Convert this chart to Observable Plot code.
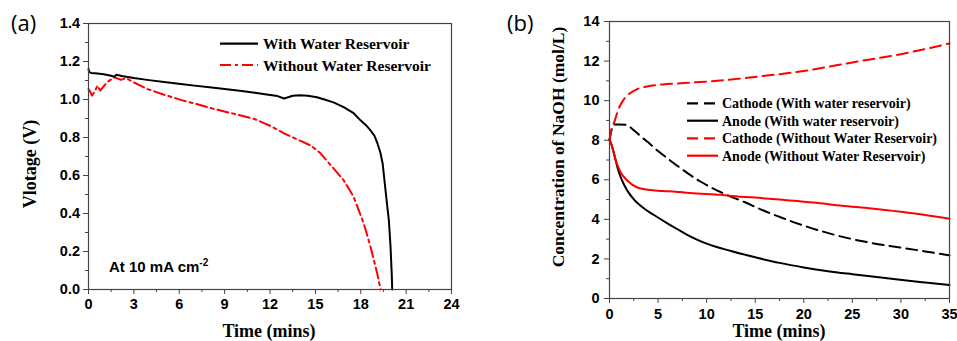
<!DOCTYPE html>
<html><head><meta charset="utf-8">
<script src="https://cdn.jsdelivr.net/npm/d3@7"></script>
<script src="https://cdn.jsdelivr.net/npm/@observablehq/plot@0.6"></script>
<style>
body{margin:0;background:#fff;}
#wrap{position:relative;width:957px;height:341px;overflow:hidden;background:#fff;}
#wrap > svg{position:absolute;top:0;}
</style></head><body><div id="wrap"></div>
<script>
// ---------- Panel (a) data ----------
const aWithT = [0, 0.05, 0.2, 0.6, 1.0, 1.5, 1.7, 1.85, 2.2, 3, 4, 5, 6.1, 7, 8, 9, 10, 11, 11.9, 12.5, 12.93, 13.2, 13.5, 14, 14.5, 15.1, 15.6, 16.2, 16.9, 17.5, 18.0, 18.4, 18.65, 18.9, 19.1, 19.3, 19.45, 19.6, 19.75, 19.86, 19.97, 20.05, 20.08];
const aWithV = [1.16, 1.143, 1.14, 1.137, 1.133, 1.125, 1.12, 1.13, 1.124, 1.113, 1.102, 1.092, 1.082, 1.073, 1.064, 1.055, 1.046, 1.035, 1.025, 1.018, 1.005, 1.012, 1.02, 1.022, 1.02, 1.012, 1.0, 0.985, 0.959, 0.93, 0.889, 0.86, 0.837, 0.81, 0.77, 0.72, 0.662, 0.55, 0.44, 0.364, 0.224, 0.08, 0];
const aWithoutT = [0, 0.12, 0.23, 0.38, 0.6, 0.78, 1.04, 1.3, 1.7, 2.15, 2.48, 3, 3.9, 5, 6.1, 7.2, 8.3, 9.6, 10.95, 12, 12.93, 13.8, 14.69, 15.3, 15.79, 16.3, 16.88, 17.54, 18.2, 18.65, 19.09, 19.31];
const aWithoutV = [1.055, 1.04, 1.02, 1.038, 1.073, 1.047, 1.073, 1.095, 1.117, 1.103, 1.113, 1.09, 1.055, 1.025, 0.998, 0.975, 0.95, 0.925, 0.898, 0.862, 0.822, 0.79, 0.758, 0.72, 0.675, 0.628, 0.574, 0.486, 0.347, 0.224, 0.084, 0];
const aXTicks = [0, 3, 6, 9, 12, 15, 18, 21, 24];
const aXMinor = [1.5, 4.5, 7.5, 10.5, 13.5, 16.5, 19.5, 22.5];
const aYTicks = [0, 0.2, 0.4, 0.6, 0.8, 1.0, 1.2, 1.4];
const aYMinor = [0.1, 0.3, 0.5, 0.7, 0.9, 1.1, 1.3];
const aLegend = ["With Water Reservoir", "Without Water Reservoir"];

// ---------- Panel (b) data ----------
const bCathWithT = [0, 0.2, 0.5, 1, 1.7, 2.5, 3.5, 4.2, 5, 6, 7.7, 9.4, 11.1, 12.3, 14, 15.5, 17.1, 19, 21.7, 23.3, 25, 27.5, 29.9, 32.5, 35];
const bCathWithV = [8.0, 8.5, 8.8, 8.8, 8.78, 8.5, 8.08, 7.8, 7.45, 7.07, 6.45, 5.9, 5.45, 5.19, 4.85, 4.52, 4.2, 3.85, 3.42, 3.2, 3.0, 2.76, 2.58, 2.38, 2.18];
const bAnodeWithT = [0, 0.13, 0.48, 0.82, 1.16, 1.5, 1.85, 2.53, 3.56, 4.58, 5.96, 7, 8, 9, 10.07, 12.5, 15.2, 17.5, 20, 22.5, 25, 27.5, 29.9, 32.5, 35];
const bAnodeWithV = [8.0, 7.88, 7.3, 6.62, 6.12, 5.75, 5.44, 5.0, 4.55, 4.22, 3.8, 3.5, 3.22, 2.98, 2.76, 2.4, 2.06, 1.8, 1.57, 1.38, 1.23, 1.09, 0.95, 0.81, 0.68];
const bCathWithoutT = [0, 0.13, 0.48, 0.99, 1.5, 2.53, 4.24, 5.5, 7.67, 11.1, 15, 20, 25, 30, 35];
const bCathWithoutV = [8.0, 8.39, 8.9, 9.65, 10.08, 10.5, 10.75, 10.82, 10.89, 11.0, 11.2, 11.5, 11.93, 12.35, 12.89];
const bAnodeWithoutT = [0, 0.13, 0.65, 1.16, 1.85, 2.88, 4.24, 5.5, 6.81, 7.67, 9, 11.44, 12.29, 15, 18, 21, 23.94, 27, 30, 32.5, 35];
const bAnodeWithoutV = [8.0, 7.88, 6.96, 6.37, 5.95, 5.61, 5.48, 5.43, 5.4, 5.36, 5.31, 5.24, 5.19, 5.1, 4.98, 4.85, 4.69, 4.55, 4.38, 4.22, 4.03];
const bXTicks = [0, 5, 10, 15, 20, 25, 30, 35];
const bXMinor = [2.5, 7.5, 12.5, 17.5, 22.5, 27.5, 32.5];
const bYTicks = [0, 2, 4, 6, 8, 10, 12, 14];
const bYMinor = [1, 3, 5, 7, 9, 11, 13];
const bLegend = ["Cathode (With water reservoir)", "Anode (With water reservoir)", "Cathode (Without Water Reservoir)", "Anode (Without Water Reservoir)"];

const zip = (t, v) => t.map((x, i) => ({t: x, v: v[i]}));
const RED = "#ff0000";
const AX = "#444";
const tickStyle = {fontFamily: "'Liberation Sans', Arial, sans-serif", fontSize: "14.5px", fontWeight: "bold", background: "transparent", overflow: "visible", color: "#000"};

const wrap = document.getElementById("wrap");

const pa = Plot.plot({
  width: 480, height: 341, marginLeft: 88, marginRight: 29, marginTop: 23, marginBottom: 52,
  style: tickStyle,
  x: {domain: [0, 24]}, y: {domain: [0, 1.4]},
  marks: [
    Plot.axisX(aXTicks, {tickSize: 5, tickPadding: 4, stroke: AX, fill: "#000", label: null}),
    Plot.axisX(aXMinor, {tickSize: 3, tickFormat: () => "", stroke: AX, label: null}),
    Plot.axisY(aYTicks, {tickSize: 5, tickPadding: 3.5, stroke: AX, fill: "#000", tickFormat: d3.format(".1f"), label: null}),
    Plot.axisY(aYMinor, {tickSize: 3, tickFormat: () => "", stroke: AX, label: null}),
    Plot.line(zip(aWithoutT, aWithoutV), {x: "t", y: "v", stroke: RED, strokeWidth: 2, strokeDasharray: "11,4,3,4"}),
    Plot.line(zip(aWithT, aWithV), {x: "t", y: "v", stroke: "#000", strokeWidth: 2}),
    Plot.frame({stroke: AX, strokeWidth: 1.2})
  ]
});
pa.style.left = "0px";
wrap.appendChild(pa);

const pb = Plot.plot({
  width: 477, height: 341, marginLeft: 129, marginRight: 8, marginTop: 21, marginBottom: 43,
  style: tickStyle,
  x: {domain: [0, 35]}, y: {domain: [0, 14]},
  marks: [
    Plot.axisX(bXTicks, {tickSize: 5, tickPadding: 5, stroke: AX, fill: "#000", label: null}),
    Plot.axisX(bXMinor, {tickSize: 3, tickFormat: () => "", stroke: AX, label: null}),
    Plot.axisY(bYTicks, {tickSize: 5, tickPadding: 5, stroke: AX, fill: "#000", label: null}),
    Plot.axisY(bYMinor, {tickSize: 3, tickFormat: () => "", stroke: AX, label: null}),
    Plot.line(zip(bCathWithT, bCathWithV), {x: "t", y: "v", stroke: "#000", strokeWidth: 2, strokeDasharray: "11,6", curve: "monotone-x"}),
    Plot.line(zip(bAnodeWithT, bAnodeWithV), {x: "t", y: "v", stroke: "#000", strokeWidth: 2, curve: "monotone-x"}),
    Plot.line(zip(bCathWithoutT, bCathWithoutV), {x: "t", y: "v", stroke: RED, strokeWidth: 2, strokeDasharray: "11,6", curve: "monotone-x"}),
    Plot.line(zip(bAnodeWithoutT, bAnodeWithoutV), {x: "t", y: "v", stroke: RED, strokeWidth: 2, curve: "monotone-x"}),
    Plot.frame({stroke: AX, strokeWidth: 1.2})
  ]
});
pb.style.left = "480px";
wrap.appendChild(pb);

// ---------- overlay: panel letters, axis titles, legends, annotation ----------
const ov = d3.select(wrap).append("svg")
  .attr("width", 957).attr("height", 341)
  .style("left", "0px").style("pointer-events", "none");
const serif = "'Liberation Serif', 'Times New Roman', serif";
const sans = "'Liberation Sans', Arial, sans-serif";

ov.append("text").attr("x", 11).attr("y", 31).attr("font-family", "'Open Sans', sans-serif").attr("font-size", 22).text("(a)");
ov.append("text").attr("x", 507).attr("y", 31).attr("font-family", "'Open Sans', sans-serif").attr("font-size", 22).text("(b)");

// axis titles
ov.append("text").attr("x", 269).attr("y", 336.5).attr("text-anchor", "middle")
  .attr("font-family", serif).attr("font-weight", "bold").attr("font-size", 18).text("Time (mins)");
ov.append("text").attr("x", 779).attr("y", 336.5).attr("text-anchor", "middle")
  .attr("font-family", serif).attr("font-weight", "bold").attr("font-size", 18).text("Time (mins)");
ov.append("text").attr("transform", "translate(36,164) rotate(-90)").attr("text-anchor", "middle")
  .attr("font-family", serif).attr("font-weight", "bold").attr("font-size", 18).text("Vlotage (V)");
ov.append("text").attr("transform", "translate(564,147) rotate(-90)").attr("text-anchor", "middle")
  .attr("font-family", serif).attr("font-weight", "bold").attr("font-size", 17.5).text("Concentration of NaOH (mol/L)");

// annotation
const ann = ov.append("text").attr("x", 109).attr("y", 272).attr("font-family", sans).attr("font-weight", "bold").attr("font-size", 15);
ann.append("tspan").text("At 10 mA cm");
ann.append("tspan").attr("font-size", 10).attr("dy", -6).text("-2");

// legend (a)
const legA = [{c: "#000", d: null, y: 43.7}, {c: RED, d: "11,4,3,4", y: 65}];
legA.forEach((s, i) => {
  ov.append("line").attr("x1", 220).attr("x2", 258).attr("y1", s.y).attr("y2", s.y)
    .attr("stroke", s.c).attr("stroke-width", 2.2).attr("stroke-dasharray", s.d);
  ov.append("text").attr("x", 263).attr("y", s.y + 5.5).attr("font-family", serif).attr("font-weight", "bold")
    .attr("font-size", 15.5).text(aLegend[i]);
});

// legend (b)
const legB = [{c: "#000", d: "11,6", y: 103.3}, {c: "#000", d: null, y: 120.7}, {c: RED, d: "11,6", y: 138.3}, {c: RED, d: null, y: 155.7}];
legB.forEach((s, i) => {
  ov.append("line").attr("x1", 687).attr("x2", 718).attr("y1", s.y).attr("y2", s.y)
    .attr("stroke", s.c).attr("stroke-width", 2.2).attr("stroke-dasharray", s.d);
  ov.append("text").attr("x", 722).attr("y", s.y + 5).attr("font-family", serif).attr("font-weight", "bold")
    .attr("font-size", 14).text(bLegend[i]);
});
</script></body></html>
